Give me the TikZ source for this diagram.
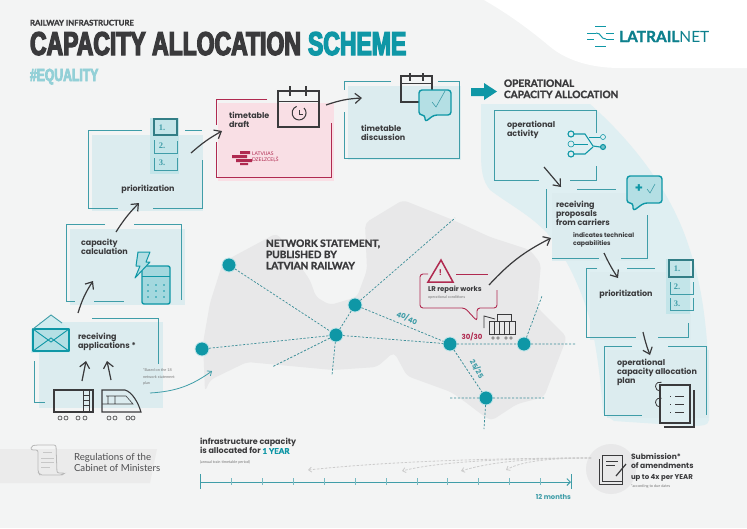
\documentclass[tikz,border=0pt]{standalone}
\usepackage{fontspec}
\usetikzlibrary{arrows.meta,calc}
\setmainfont{Poppins}
\newfontfamily\lightf{Lato}
\newfontfamily\capsfam[FakeBold=1.6]{Lato}
\newcommand{\capsf}{\capsfam\bfseries}
\newfontfamily\titlefam[FakeStretch=0.696,FakeBold=4]{Liberation Sans}
\newcommand{\titlef}{\titlefam\bfseries}
\newfontfamily\digitfam{Liberation Serif}
\newcommand{\digitf}{\digitfam\bfseries}
\newcommand{\fsz}[2]{\fontsize{#1}{#2}\selectfont}
\definecolor{bgc}{HTML}{F3F4F4}
\definecolor{blobc}{HTML}{DFEFF2}
\definecolor{fillc}{HTML}{DCECEF}
\definecolor{framec}{HTML}{3F9DA8}
\definecolor{tealc}{HTML}{0F97A6}
\definecolor{darkc}{HTML}{3A3A3C}
\definecolor{pinkc}{HTML}{F9DFE5}
\definecolor{crimc}{HTML}{B02A50}
\definecolor{mapc}{HTML}{E8E8E9}
\definecolor{iconf}{HTML}{B4DFE4}
\definecolor{greyt}{HTML}{777777}
\tikzset{
  every node/.style={inner sep=0pt,outer sep=0pt},
  framel/.style={draw=framec,line width=0.9pt},
  crimf/.style={draw=crimc,line width=0.9pt},
  darkl/.style={draw=darkc,line width=1.1pt},
  tealicon/.style={draw=tealc,line width=1.4pt,fill=iconf,line join=round},
  flow/.style={draw=darkc,line width=1.2pt,-{Straight Barb[length=6pt,width=10pt,line width=1.2pt]}},
  lbl/.style={anchor=north west,align=left,text=darkc,font=\bfseries\fsz{8}{8.9}},
  small/.style={anchor=north west,align=left,text=darkc,font=\bfseries\fsz{6.2}{7.6}},
  tiny/.style={anchor=north west,align=left,text=greyt,font=\lightf\fsz{3.8}{6.4}},
  caps/.style={anchor=north west,align=left,text=darkc,font=\capsf\fsz{10.1}{11.2}},
  station/.style={circle,fill=tealc,draw=tealc!25,line width=0.8pt,minimum size=14pt},
  rail/.style={draw=framec!90!black,line width=0.7pt,dash pattern=on 2.2pt off 1.6pt},
  amend/.style={draw=black!20,line width=0.8pt,dash pattern=on 2.5pt off 1.5pt,-{Straight Barb[length=3pt,width=5pt]}},
  digit/.style={text=framec,font=\digitf\fsz{8.5}{9}},
}
\begin{document}
\begin{tikzpicture}[x=1pt,y=-1pt]
\useasboundingbox (0,0) rectangle (747,528);
% backgrounds
\fill[bgc] (0,0) rectangle (747,528);
\fill[white] (484,0) .. controls (510,15) and (530,30) .. (548,45) .. controls (565,60) and (590,68) .. (620,68) -- (747,68) -- (747,0) -- cycle;
\fill[blobc] (481,104) -- (590,104) .. controls (625,135) and (670,185) .. (690,250) .. controls (705,295) and (710,350) .. (709,420) .. controls (709,426) and (700,426) .. (690,426) -- (614,421) -- (603,413) .. controls (600,370) and (595,340) .. (590,320) .. controls (580,285) and (565,255) .. (547,233) .. controls (530,215) and (510,205) .. (490,190) .. controls (482,180) and (481,170) .. (481,150) -- cycle;
% map
\fill[mapc,rounded corners=5pt] (205,392) -- (203,343) -- (210,303) -- (223,262) -- (277,233) -- (310,280) -- (316,297) -- (330,305) -- (357,297) -- (367,270) -- (365,223) -- (403,200) -- (453,220) -- (490,237) -- (530,250) -- (541,264) -- (537,307) -- (567,337) -- (544,397) -- (517,404) -- (491,421) -- (481,414) -- (464,401) -- (451,392) -- (407,376) -- (394,352) -- (377,367) -- (333,370) -- (247,362) -- (210,380) -- cycle;
% box fills
\fill[fillc] (92,135) rectangle (203,211);
\fill[pinkc] (218,103) rectangle (334,181);
\fill[fillc] (348,86) rectangle (461,160);
\fill[fillc] (70,229) rectangle (185,305);
\fill[fillc] (39,322) rectangle (163,408);
\fill[fillc] (552,193) rectangle (650,261);
\fill[fillc] (590,272) rectangle (691,340);
\fill[fillc] (607,350) rectangle (709,418);
% grey band and circle
\fill[black!8] (0,449) -- (157,449) -- (150,483) -- (0,483) -- cycle;
\fill[mapc] (611,469) circle (25);
% frames
\draw[framel] (142,130) -- (88,130) -- (88,208) -- (118,208);
\draw[framel] (153,208) -- (202,208) -- (202,160);
\draw[framel] (185,130) -- (202,130);
\draw[crimf] (267,99) -- (216,99) -- (216,125);
\draw[crimf] (216,142) -- (216,177) -- (331,177) -- (331,123);
\draw[framel] (391,81) -- (344,81) -- (344,90);
\draw[framel] (344,112) -- (344,158) -- (459,158) -- (459,81) -- (438,81);
\draw[framel] (105,224) -- (66,224) -- (66,301) -- (75,301);
\draw[framel] (94,301) -- (124,301);
\draw[framel] (134,224) -- (181,224) -- (181,300);
\draw[framel] (92,318) -- (158,318) -- (158,364);
\draw[framel] (34,361) -- (34,402) -- (45,402);
\draw[framel] (596,133) -- (596,110) -- (494,110) -- (494,180) -- (539,180);
\draw[framel] (570,180) -- (596,180) -- (596,166);
\draw[framel] (546,228) -- (546,189);
\draw[framel] (577,189) -- (616,189);
\draw[framel] (647,215) -- (647,258) -- (621,258);
\draw[framel] (552,258) -- (599,258);
\draw[framel] (597,268) -- (586,268) -- (586,337) -- (636,337);
\draw[framel] (627,268) -- (655,268);
\draw[framel] (658,337) -- (688,337) -- (688,323);
\draw[framel] (632,346) -- (604,346) -- (604,415) -- (642,415);
\draw[framel] (668,346) -- (706,346) -- (706,415);
% list icons
\fill[iconf!80] (150,118) rectangle (179,174);
\draw[draw=framec!80!black,line width=1.5pt] (154,119) rectangle (177,135);
\draw[framel] (154,153) -- (154,140); \draw[framel] (154,153) -- (177,153) -- (177,141);
\draw[framel] (154,170) -- (154,158); \draw[framel] (154,170) -- (177,170) -- (177,158);
\node[digit] (la1) at (162,128) {1.}; \node[digit] (la2) at (162,146) {2.}; \node[digit] (la3) at (162,163) {3.};
\fill[iconf!80] (666,259) rectangle (690,314);
\draw[draw=framec!80!black,line width=1.5pt] (669,260) rectangle (693,277);
\draw[framel] (670,294) -- (670,282); \draw[framel] (670,294) -- (693,294) -- (693,282);
\draw[framel] (670,310) -- (670,298); \draw[framel] (670,310) -- (693,310) -- (693,298);
\node[digit] (lb1) at (677,269) {1.}; \node[digit] (lb2) at (677,287) {2.}; \node[digit] (lb3) at (677,304) {3.};
% calendar 1
\draw[darkl] (278,91) rectangle (319,127);
\draw[draw=darkc,line width=0.6pt] (278,101) -- (319,101);
\draw[darkl] (290,86) -- (290,96) (306,86) -- (306,96);
\draw[draw=darkc,line width=1pt] (304,108) arc (-45:250:7);
\draw[draw=darkc,line width=0.8pt] (299,110) -- (299,114) -- (303,114);
% Latvijas Dzelzcels logo
\fill[crimc] (240,151) rectangle (250,154) (232,155) rectangle (247,158) (236,159) rectangle (252,162) (240,163) rectangle (248,165);
\node[anchor=north west,align=left,text=crimc,font=\lightf\fsz{5}{6}] (ldz) at (252,152) {LATVIJAS\\DZELZCEĻŠ};
% calendar 2 + bubble
\draw[darkl] (420,102) -- (401,102) -- (401,76) -- (432,76) -- (432,90);
\draw[draw=darkc,line width=0.6pt] (401,83) -- (432,83);
\draw[darkl] (410,73) -- (410,81) (423,73) -- (423,81);
\draw[tealicon,rounded corners=3pt] (419,90) -- (451,90) -- (451,115) -- (434,115) -- (425,122) -- (425,115) -- (419,115) -- cycle;
\draw[draw=framec,line width=0.6pt] (432,102) -- (436,107) -- (445,91);
% big teal arrow
\fill[tealc] (471,88) -- (484,88) -- (484,83) -- (497,91.5) -- (484,100) -- (484,96) -- (471,96) -- cycle;
% operational activity tree icon
\draw[draw=tealc,line width=1.1pt] (574,134) -- (585,134) -- (593,146) -- (600,147);
\draw[draw=tealc,line width=1.1pt] (574,154) -- (585,154) -- (593,147);
\draw[draw=tealc,line width=0.6pt] (574,144) -- (588,144);
\draw[draw=tealc,line width=0.6pt] (589,137) -- (600,137);
\draw[draw=tealc,line width=1.1pt,fill=blobc] (571,134) circle (3) (571,154) circle (3);
\draw[draw=tealc,line width=0.6pt,fill=blobc] (571,144) circle (3) (603,137) circle (2.5);
\draw[draw=tealc,line width=1.1pt,fill=tealc!60] (603,147) circle (2.5);
% plus-check bubble
\draw[tealicon,rounded corners=3pt] (627,176) -- (662,176) -- (662,203) -- (644,203) -- (633,211) -- (633,203) -- (627,203) -- cycle;
\node[text=tealc,font=\bfseries\fsz{13}{13}] (plus) at (639,189) {+};
\draw[draw=framec,line width=0.6pt] (647,189) -- (650,193) -- (655,184);
% notebook
\draw[darkl] (664,427) -- (694,427) -- (694,390);
\draw[darkl,fill=blobc] (660,385) rectangle (690,423);
\draw[draw=darkc,line width=0.8pt] (660,391) arc (90:290:4.5) (660,407) arc (90:290:4.5);
\draw[draw=darkc,line width=0.7pt] (670,396) -- (671,396) (675,396) -- (684,396) (670,404) -- (671,404) (675,404) -- (684,404) (670,412) -- (671,412) (675,412) -- (684,412);
% calculator and lightning
\draw[tealicon,fill=iconf!90!tealc,rounded corners=2pt] (142,266) rectangle (170,304);
\draw[draw=tealc,line width=0.7pt] (142,276) -- (170,276);
\foreach \xx in {148,156,164} \foreach \yy in {285,291,297} \fill[tealc] (\xx,\yy) circle (0.9);
\draw[draw=tealc,line width=1pt,fill=iconf,line join=round] (138,252) -- (150,252) -- (146,262) -- (150,262) -- (135,278) -- (140,266) -- (136,266) -- cycle;
% envelope
\fill[iconf!60] (31,329) rectangle (70,353);
\fill[iconf!60] (33,329) -- (51,315) -- (62,323) -- (69,329) -- cycle;
\draw[tealicon,fill=iconf] (33,329) rectangle (69,351);
\draw[draw=tealc,line width=0.9pt] (33,329) -- (51,342) -- (69,329) (33,351) -- (51,338) -- (69,351);
\draw[draw=framec,line width=0.9pt] (33,329) -- (51,315) -- (62,323);
% wagon
\draw[darkl] (54,390) rectangle (93,412);
\draw[draw=darkc,line width=0.6pt] (83,390) -- (83,412) (89,390) -- (89,412) (83,395) -- (89,395) (83,400) -- (89,400) (83,405) -- (89,405);
\draw[draw=darkc,line width=0.6pt] (60,418) circle (2) (66,418) circle (2) (78,418) circle (2) (85,418) circle (2);
% train
\draw[darkl] (102,390) -- (125,390) .. controls (132,392) and (138,402) .. (141,412) -- (102,412) -- cycle;
\draw[draw=darkc,line width=0.6pt] (106,396) -- (126,396) -- (133,404) -- (102,404) (108,396) -- (108,404) (115,396) -- (115,404);
\draw[draw=darkc,line width=0.6pt] (109,418) circle (2) (115,418) circle (2) (128,418) circle (2) (133,418) circle (2);
% rails
\node[station] (n1) at (229,265) {};
\node[station] (n2) at (355,305) {};
\node[station] (n3) at (336,335) {};
\node[station] (n4) at (202,349) {};
\node[station] (n5) at (450,344) {};
\node[station] (n6) at (524,344) {};
\node[station] (n7) at (486,398) {};
\coordinate (e1) at (455,218); \coordinate (e2) at (272,367); \coordinate (e3) at (332,375);
\coordinate (e4) at (542,296); \coordinate (e5) at (576,344); \coordinate (e6) at (450,398);
\coordinate (e7) at (544,398); \coordinate (e8) at (484,429);
\draw[rail] (n1) -- (n3) (n4) -- (n3) (n3) -- (n2) (n2) -- (n5) (n3) -- (n5) (n5) -- (n6) (n5) -- (n7);
\draw[rail] (n2) -- (e1) (n3) -- (e2) (n3) -- (e3) (n6) -- (e4) (n6) -- (e5) (n7) -- (e6) (n7) -- (e7) (n7) -- (e8);
\node[text=framec,font=\bfseries\fsz{7}{8},rotate=-24] (r40) at (407,318) {40/40};
\node[text=crimc,font=\bfseries\fsz{7}{8}] (r30) at (472,337) {30/30};
\node[text=framec,font=\bfseries\fsz{7}{8},rotate=-60] (r25) at (477,369) {25/25};
% LR repair box
\draw[crimf,rounded corners=3pt] (428,274) -- (420,274) -- (420,308) -- (465,308) -- (477,321) -- (477,308) -- (497,308) -- (497,290);
\draw[crimf] (456,274) -- (488,274);
\draw[draw=crimc,line width=1.5pt,line join=miter] (441,260) -- (453,282) -- (428,282) -- cycle;
\node[text=crimc,font=\bfseries\fsz{8}{8}] (warn) at (440.5,273) {!};
% container
\draw[draw=darkc,line width=0.9pt] (489,321) rectangle (515,334);
\draw[draw=darkc,line width=0.8pt] (497,321) -- (497,314) -- (511,314) -- (511,321);
\draw[draw=darkc,line width=0.6pt] (494,321) -- (494,334) (499,321) -- (499,334) (504,321) -- (504,334) (509,321) -- (509,334);
\draw[draw=darkc,line width=0.8pt] (484,328) -- (484,316) -- (495,319);
\draw[draw=darkc,line width=0.4pt] (493,338) circle (1.3) (498,338) circle (1.3) (506,338) circle (1.3) (511,338) circle (1.3);
% connectors
\coordinate (a1s) at (78,313); \coordinate (a1e) at (93,281);
\coordinate (a2s) at (116,232); \coordinate (a2e) at (139,203);
\coordinate (a3s) at (191,153); \coordinate (a3e) at (222,131);
\coordinate (a4s) at (326,105); \coordinate (a4e) at (362,98);
\coordinate (a5s) at (544,167); \coordinate (a5e) at (561,187);
\coordinate (a6s) at (489,285); \coordinate (a6e) at (551,238);
\coordinate (a7s) at (604,253); \coordinate (a7e) at (618,278);
\coordinate (a8s) at (643,332); \coordinate (a8e) at (650,355);
\coordinate (a9s) at (82,381); \coordinate (a9e) at (86,361);
\coordinate (a10s) at (111,380); \coordinate (a10e) at (107,361);
\coordinate (a11s) at (150,393); \coordinate (a11e) at (212,371);
\draw[flow] (a1s) to[bend left=8] (a1e);
\draw[flow] (a2s) to[bend left=6] (a2e);
\draw[flow] (a3s) to[bend left=6] (a3e);
\draw[flow] (a4s) to[bend left=8] (a4e);
\draw[flow] (a5s) -- (a5e);
\draw[flow] (a6s) to[bend left=10] (a6e);
\draw[flow] (a7s) to[bend right=4] (a7e);
\draw[flow] (a8s) to[bend right=4] (a8e);
\draw[flow] (a9s) -- (a9e);
\draw[flow] (a10s) -- (a10e);
\draw[draw=framec,line width=0.8pt,-{Straight Barb[length=3.5pt,width=6pt]}] (a11s) to[bend right=16] (a11e);
% timeline
\coordinate (t0) at (200,482); \coordinate (t1) at (571,482);
\draw[draw=framec,line width=0.9pt,-{Straight Barb[length=3.5pt,width=7pt]}] (t0) -- (t1);
\draw[framel] (200,474) -- (200,489) (571,474) -- (571,489);
\foreach \xx in {231,262,293,324,355,386,417,447,478,509,540} \draw[draw=framec!70,line width=0.5pt] (\xx,478) -- (\xx,485);
% amendments
\coordinate (s0) at (591,458);
\coordinate (m1) at (308,470); \coordinate (m2) at (402,471); \coordinate (m3) at (461,471); \coordinate (m4) at (506,470);
\draw[amend] (s0) .. controls (520,458) and (400,460) .. (m1);
\draw[amend] (s0) .. controls (520,458) and (440,461) .. (m2);
\draw[amend] (s0) .. controls (530,458) and (490,462) .. (m3);
\draw[amend] (s0) .. controls (545,458) and (520,462) .. (m4);
\draw[draw=darkc,line width=0.9pt] (599,459) -- (599,484) -- (622,484) -- (622,481);
\draw[draw=darkc,line width=0.9pt,fill=mapc] (602,455) -- (622,455) -- (622,481) -- (602,481) -- cycle;
\draw[draw=darkc,line width=1pt] (606,461) -- (618,461) (606,465) -- (615,465);
\draw[draw=darkc,line width=1.2pt,fill=none] (616,476) -- (626,464);
% scroll
\draw[draw=black!28,line width=0.8pt,rounded corners=2pt] (36,445) -- (50,445) -- (56,445) -- (57,473) -- (65,473) -- (62,475) -- (40,475) -- (38,472) -- (38,450) -- (31,450) -- (31,446) -- cycle;
\draw[draw=black!22,line width=0.5pt] (43,452) -- (52,452) (41,458) -- (54,458) (41,462) -- (54,462) (41,467) -- (50,467);
% logo lines
\draw[draw=tealc,line width=1pt] (595,26) -- (606,26) (595,46) -- (606,46) (587,33) -- (596,33) (587,39) -- (594,39) (606,33) -- (614,33) (606,39) -- (614,39);
\draw[draw=tealc,line width=1pt] (596,33) .. controls (602,33) and (600,39) .. (606,39);
% title texts
\node[anchor=base west,text=darkc,font=\capsf\fsz{7.8}{8}] (over) at (30,25.5) {RAILWAY INFRASTRUCTURE};
\node[anchor=base west,text=darkc,font=\titlef\fsz{33}{33}] (t1n) at (30,55) {CAPACITY ALLOCATION};
\node[anchor=base west,text=tealc,font=\titlef\fsz{33}{33}] (t2n) at (308,55) {SCHEME};
\node[anchor=base west,text=tealc!45,font=\titlef\fsz{17.5}{18}] (eq) at (30,81) {\#EQUALITY};
\node[anchor=west,text=tealc!85!black,font=\capsf\fsz{15.5}{16}] (lg) at (619,36.5) {LATRAIL{\lightf\mdseries NET}};
% labels
\node[lbl,anchor=center] (pr1) at (148,189) {prioritization};
\node[lbl] (td) at (229,112) {timetable\\draft};
\node[lbl] (tdi) at (361,125) {timetable\\discussion};
\node[lbl] (cc) at (81,239) {capacity\\calculation};
\node[lbl] (ra) at (78,333) {receiving\\applications *};
\node[lbl] (oa) at (507,121) {operational\\activity};
\node[lbl] (rp) at (556,201) {receiving\\proposals\\from carriers};
\node[small] (it) at (573,233) {indicates technical\\capabilities};
\node[lbl,anchor=center] (pr2) at (626,294) {prioritization};
\node[lbl] (op) at (617,359) {operational\\capacity allocation\\plan};
\node[caps] (opc) at (504,79.5) {OPERATIONAL\\CAPACITY ALLOCATION};
\node[caps] (ns) at (266,239.5) {NETWORK STATEMENT,\\PUBLISHED BY\\LATVIAN RAILWAY};
\node[small,font=\bfseries\fsz{6.9}{7}] (lr) at (428,286) {LR repair works};
\node[tiny] (oc) at (428,295.5) {operational conditions};
\node[tiny] (fn) at (143,369) {*Based on the 18\\ network statement\\ plan};
\node[anchor=north west,align=left,text=darkc!90,font=\lightf\fsz{9.7}{11.6}] (reg) at (74,453) {Regulations of the\\Cabinet of Ministers};
\node[lbl,font=\bfseries\fsz{8}{9.5}] (ic) at (200,438) {infrastructure capacity\\is allocated for {\color{tealc}\capsf 1 YEAR}};
\node[tiny] (an) at (200,461) {(annual train timetable period)};
\node[anchor=base east,text=framec,font=\bfseries\fsz{6.8}{7}] (mo) at (571,499) {12 months};
\node[lbl,font=\bfseries\fsz{7.6}{9}] (sub) at (631,453.5) {Submission*\\of amendments};
\node[lbl,font=\bfseries\fsz{7}{8}] (up) at (631,474) {up to 4x per YEAR};
\node[tiny] (du) at (631,485) {*according to due dates};
\end{tikzpicture}
\end{document}
